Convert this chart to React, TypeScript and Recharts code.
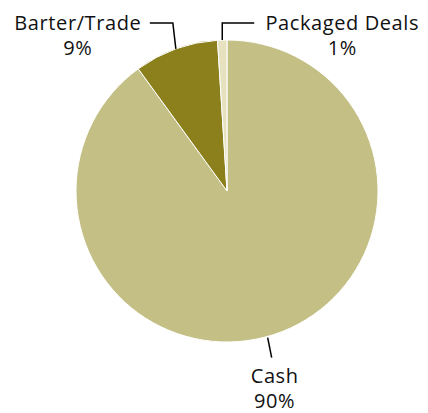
import React from 'react';
import { PieChart, Pie, Cell } from 'recharts';

const categories = ['Cash', 'Barter/Trade', 'Packaged Deals'];
const values = [90, 9, 1];
const percentLabels = ['90%', '9%', '1%'];
const colors = ['#C4BF85', '#8B801B', '#E6E2BF'];

const data = categories.map((name, i) => ({ name, value: values[i] }));

// leader-line & text layout relative to slice edge point
const labelLayout: Record<string, { pts: number[][]; tx: number; ty: number }> = {
  'Cash': { pts: [[-6, 3], [-2, 23]], tx: 1, ty: 48 },
  'Barter/Trade': { pts: [[0, 0], [-3, -26], [-26, -26]], tx: -98, ty: -19 },
  'Packaged Deals': { pts: [[0, 0], [0, -17], [32, -17]], tx: 120, ty: -10 },
};

const RADIAN = Math.PI / 180;
const FONT = '"Open Sans", sans-serif';

const renderLabel = (props: any) => {
  const { cx, cy, midAngle, outerRadius, index, name } = props;
  const ex = cx + outerRadius * Math.cos(-midAngle * RADIAN);
  const ey = cy + outerRadius * Math.sin(-midAngle * RADIAN);
  const cfg = labelLayout[name ?? categories[index]];
  if (!cfg) return null;
  const pts = cfg.pts.map(([dx, dy]) => `${ex + dx},${ey + dy}`).join(' ');
  return (
    <g key={`lbl-${index}`}>
      <polyline points={pts} fill="none" stroke="#000" strokeWidth={1.5} />
      <text x={ex + cfg.tx} y={ey + cfg.ty} textAnchor="middle" fill="#111" fontSize={20} letterSpacing={0.6} fontFamily={FONT}>
        <tspan x={ex + cfg.tx} dy={0}>{categories[index]}</tspan>
        <tspan x={ex + cfg.tx} dy={25}>{percentLabels[index]}</tspan>
      </text>
    </g>
  );
};

export default function App() {
  return (
    <div style={{ position: 'absolute', left: 0, top: 0, width: 428, height: 413, background: '#fff' }}>
      <PieChart width={428} height={413} margin={{ top: 0, right: 0, bottom: 0, left: 0 }}>
        <Pie
          data={data}
          dataKey="value"
          nameKey="name"
          cx={227}
          cy={191}
          outerRadius={151}
          startAngle={90}
          endAngle={-270}
          stroke="#fff"
          strokeWidth={1}
          label={renderLabel}
          labelLine={false}
          isAnimationActive={false}
        >
          {data.map((d, i) => (
            <Cell key={d.name} fill={colors[i]} />
          ))}
        </Pie>
      </PieChart>
    </div>
  );
}
